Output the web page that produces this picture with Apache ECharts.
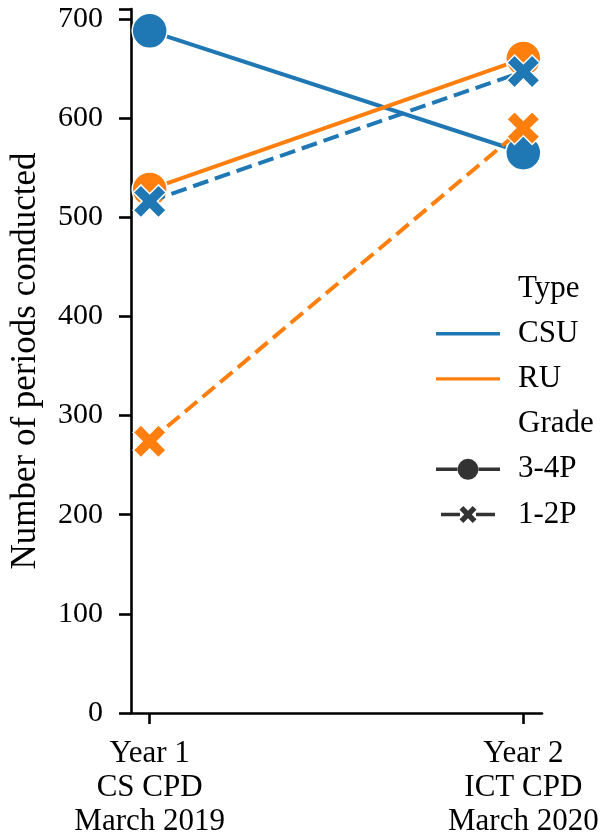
<!DOCTYPE html>
<html>
<head>
<meta charset="utf-8">
<script src="https://cdn.jsdelivr.net/npm/echarts@6/dist/echarts.min.js"></script>
<style>
html,body{margin:0;padding:0;background:#fff;}
#chart{width:607px;height:839px;}
</style>
</head>
<body>
<div id="chart"></div>
<script>
// ---- data ----
const categories = ['Year 1\nCS CPD\nMarch 2019', 'Year 2\nICT CPD\nMarch 2020'];
const csu34 = [688, 565];
const ru34  = [528, 660];
const csu12 = [516, 647];
const ru12  = [274, 590];
const yTicks = [0, 100, 200, 300, 400, 500, 600, 700];

const BLUE = '#1f77b4', ORANGE = '#ff7f0e', DARK = '#333333';
const FONT = '"Liberation Serif", "Times New Roman", serif';
const XPATH = 'path://M0,1.4 L1.4,0 L3,1.6 L4.6,0 L6,1.4 L4.4,3 L6,4.6 L4.6,6 L3,4.4 L1.4,6 L0,4.6 L1.6,3 Z';

// legend icons
const ICON_LINE = 'path://M0,0 L64,0 L64,3.4 L0,3.4 Z';
const ICON_CIRCLE = 'path://M0,8.8 L22,8.8 L22,12.2 L0,12.2 Z M42,8.8 L64,8.8 L64,12.2 L42,12.2 Z ' +
  'M21.5,10.5 A10.5,10.5 0 1 0 42.5,10.5 A10.5,10.5 0 1 0 21.5,10.5 Z';
const ICON_X = 'path://M5,6.8 L24,6.8 L24,10.2 L5,10.2 Z M40,6.8 L59,6.8 L59,10.2 L40,10.2 Z ' +
  'M23.5,3.8 L27.3,0 L32,4.7 L36.7,0 L40.5,3.8 L35.8,8.5 L40.5,13.2 L36.7,17 L32,12.3 L27.3,17 L23.5,13.2 L28.2,8.5 Z ' +
  'M0,0 L0.01,0 L0.01,0.01 Z M64,17 L63.99,17 L63.99,16.99 Z';

function pts(vals){ return vals.map((v,i)=>[i, v]); }

function mk(name, vals, color, dashed, symbol, size, z){
  return {
    name: name, type: 'line', z: z,
    data: pts(vals),
    symbol: symbol, symbolSize: size,
    lineStyle: {color: color, width: 4, type: dashed ? [16, 7] : 'solid'},
    itemStyle: {color: color, borderColor: '#ffffff', borderWidth: 1.5},
    emphasis: {disabled: true},
    animation: false
  };
}
function dummy(name, color){
  return {
    name: name, type: 'line', data: [],
    symbol: 'none',
    lineStyle: {color: color, width: 3.4},
    itemStyle: {color: color, borderWidth: 0}
  };
}

const chart = echarts.init(document.getElementById('chart'), null, {renderer: 'canvas'});
chart.setOption({
  animation: false,
  backgroundColor: '#fff',
  grid: {left: 128, right: 65, top: 9, bottom: 123},
  xAxis: {
    type: 'value', min: -0.05, max: 1.05,
    splitLine: {show: false},
    axisLine: {show: true, onZero: false, lineStyle: {color: '#000', width: 2.6}},
    axisTick: {show: true, customValues: [0, 1], length: 11, lineStyle: {color: '#000', width: 2.6}},
    axisLabel: {
      customValues: [0, 1], margin: 24,
      formatter: v => categories[Math.round(v)],
      fontFamily: FONT, fontSize: 31, color: '#000', lineHeight: 34, align: 'center'
    }
  },
  yAxis: {
    type: 'value', min: 0, max: 710, interval: 100,
    name: 'Number of periods conducted', nameLocation: 'middle', nameRotate: 90, nameGap: 88,
    nameTextStyle: {fontFamily: FONT, fontSize: 35, color: '#000'},
    splitLine: {show: false},
    axisLine: {show: true, onZero: false, lineStyle: {color: '#000', width: 2.6}},
    axisTick: {show: true, length: 12, lineStyle: {color: '#000', width: 2.6}},
    axisLabel: {
      margin: 28, fontFamily: FONT, fontSize: 30, color: '#000',
      formatter: v => (yTicks.indexOf(v) >= 0 ? String(v) : '')
    }
  },
  legend: {
    orient: 'vertical', left: 431, top: 268, selectedMode: false,
    itemWidth: 64, itemHeight: 21, itemGap: 14.2, symbolKeepAspect: true,
    textStyle: {fontFamily: FONT, fontSize: 31, color: '#000', lineHeight: 30, padding: [0, 0, 0, 13]},
    data: [
      {name: 'Type', icon: 'none'},
      {name: 'CSU', icon: ICON_LINE},
      {name: 'RU', icon: ICON_LINE},
      {name: 'Grade', icon: 'none'},
      {name: '3-4P', icon: ICON_CIRCLE},
      {name: '1-2P', icon: ICON_X}
    ]
  },
  series: [
    mk('CSU 3-4P', csu34, BLUE, false, 'circle', 35, 2),
    mk('RU 3-4P', ru34, ORANGE, false, 'circle', 35, 3),
    mk('CSU 1-2P', csu12, BLUE, true, XPATH, 33, 4),
    mk('RU 1-2P', ru12, ORANGE, true, XPATH, 33, 5),
    dummy('Type', '#fff'),
    dummy('CSU', BLUE),
    dummy('RU', ORANGE),
    dummy('Grade', '#fff'),
    dummy('3-4P', DARK),
    dummy('1-2P', DARK)
  ]
});
</script>
</body>
</html>
